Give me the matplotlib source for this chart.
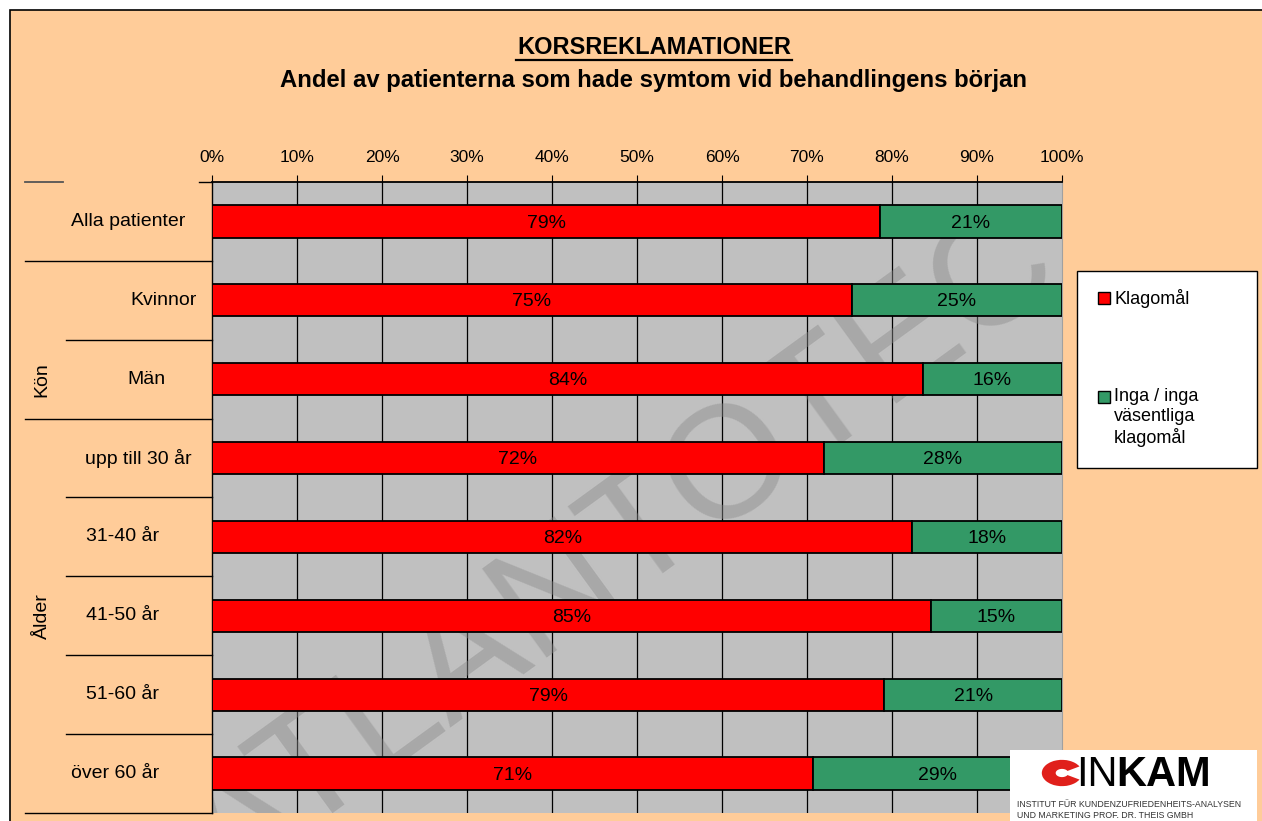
import matplotlib.pyplot as plt
from matplotlib.patches import Rectangle, Wedge

plt.rcParams['font.family'] = ['Liberation Sans', 'DejaVu Sans']

# data
categories = ["Alla patienter", "Kvinnor", "Män", "upp till 30 år",
              "31-40 år", "41-50 år", "51-60 år", "över 60 år"]
klagomal = [78.6, 75.3, 83.6, 72.0, 82.4, 84.6, 79.1, 70.7]
inga = [21.4, 24.7, 16.4, 28.0, 17.6, 15.4, 20.9, 29.3]
klagomal_labels = ["79%", "75%", "84%", "72%", "82%", "85%", "79%", "71%"]
inga_labels = ["21%", "25%", "16%", "28%", "18%", "15%", "21%", "29%"]
groups = ["Kön", "Ålder"]

W, H = 1262, 821
def fx(x): return x / W
def fy(y): return 1 - y / H

fig = plt.figure(figsize=(12.62, 8.21), dpi=100, facecolor="white")
# orange frame
fig.patches.append(Rectangle((fx(10), -0.01), 1.0, fy(10) + 0.01,
                             transform=fig.transFigure, facecolor="#FFCC99",
                             edgecolor="black", linewidth=1.2, zorder=-1))

ax = fig.add_axes([fx(212), fy(813), fx(1062) - fx(212), fy(182) - fy(813)])
ax.set_zorder(1)
ax.set_facecolor("#C0C0C0")
ax.set_xlim(0, 100)
ax.set_ylim(len(categories), 0)

y = [i + 0.5 for i in range(len(categories))]
ax.barh(y, klagomal, height=0.41, color="#FF0000", edgecolor="black", linewidth=1.3, zorder=3)
ax.barh(y, inga, left=klagomal, height=0.41, color="#339966", edgecolor="black", linewidth=1.3, zorder=3)

for yi, k, i_, kl, il in zip(y, klagomal, inga, klagomal_labels, inga_labels):
    ax.text(k / 2, yi + 0.02, kl, ha="center", va="center", fontsize=14, zorder=4)
    ax.text(k + i_ / 2, yi + 0.02, il, ha="center", va="center", fontsize=14, zorder=4)

# vertical gridlines
for g in range(10, 100, 10):
    ax.axvline(g, color="black", linewidth=0.9, zorder=1)

# watermark
ax.text(48, 4.7, "ATLANTOTEC", rotation=36, fontsize=115, color="#8C8C8C", alpha=0.45,
        ha="center", va="center", zorder=2, clip_on=True)

ax.xaxis.tick_top()
ax.set_xticks(range(0, 101, 10))
ax.set_xticklabels([f"{t}%" for t in range(0, 101, 10)], fontsize=12.5)
ax.tick_params(axis="x", direction="out", length=5, pad=7, color="black")
ax.set_yticks([])
ax.spines["bottom"].set_visible(False)
ax.spines["top"].set_linewidth(1.3)
ax.spines["left"].set_linewidth(1.0)
ax.spines["right"].set_color("#A0A0A0")

# category labels and separators
tr = ax.get_yaxis_transform()
label_px = [128, 164, 146, 138, 123, 123, 123, 115]
for yi, lab, px in zip(y, categories, label_px):
    ax.text((px - 212) / 850, yi, lab, transform=tr, ha="center", va="center",
            fontsize=14, clip_on=False)
long_x = (25 - 212) / 850
short_x = (66 - 212) / 850
ax.plot([long_x, (63 - 212) / 850], [0, 0], transform=tr, color="#555555", lw=1.3, clip_on=False)
ax.plot([-0.015, 0], [0, 0], transform=tr, color="black", lw=1.0, clip_on=False)
for b in range(1, len(categories) + 1):
    x0 = long_x if b in (1, 3, 8) else short_x
    ax.plot([x0, 0], [b, b], transform=tr, color="black", lw=1.0, clip_on=False)

ax.text((42 - 212) / 850, 2.5, groups[0], transform=tr, rotation=90, ha="center",
        va="center", fontsize=14, clip_on=False)
ax.text((42 - 212) / 850, 5.5, groups[1], transform=tr, rotation=90, ha="center",
        va="center", fontsize=14, clip_on=False)

# titles
fig.text(fx(654), fy(48), "KORSREKLAMATIONER", ha="center", va="center",
         fontsize=17, fontweight="bold")
fig.lines.append(plt.Line2D([fx(516), fx(792)], [fy(60), fy(60)], transform=fig.transFigure,
                            color="black", lw=1.6))
fig.text(fx(654), fy(80), "Andel av patienterna som hade symtom vid behandlingens början",
         ha="center", va="center", fontsize=17.2, fontweight="bold")

# legend
fig.patches.append(Rectangle((fx(1077), fy(468)), fx(1257) - fx(1077), fy(271) - fy(468),
                             transform=fig.transFigure, facecolor="white",
                             edgecolor="black", linewidth=1.0, zorder=5))
fig.patches.append(Rectangle((fx(1098), fy(304)), fx(12), fy(292) - fy(304),
                             transform=fig.transFigure, facecolor="#FF0000",
                             edgecolor="black", linewidth=1.0, zorder=6))
fig.patches.append(Rectangle((fx(1098), fy(403)), fx(12), fy(391) - fy(403),
                             transform=fig.transFigure, facecolor="#339966",
                             edgecolor="black", linewidth=1.0, zorder=6))
fig.text(fx(1114), fy(298), "Klagomål", ha="left", va="center", fontsize=13, zorder=7)
fig.text(fx(1114), fy(388), "Inga / inga\nväsentliga\nklagomål", ha="left", va="top",
         fontsize=13, linespacing=1.2, zorder=7)

# logo
fig.patches.append(Rectangle((fx(1010), 0), fx(1257) - fx(1010), fy(750),
                             transform=fig.transFigure, facecolor="white",
                             edgecolor="none", zorder=8))
fig.patches.append(Wedge((fx(1062), fy(773)), 0.016, 30, 330, width=0.011,
                         transform=fig.transFigure, facecolor="#E0201B", zorder=9))
fig.text(fx(1076), fy(775), "IN", ha="left", va="center", fontsize=30,
         color="black", zorder=9)
fig.text(fx(1116), fy(775), "KAM", ha="left", va="center", fontsize=30,
         fontweight="bold", color="black", zorder=9)
fig.text(fx(1017), fy(804), "INSTITUT FÜR KUNDENZUFRIEDENHEITS-ANALYSEN", ha="left",
         va="center", fontsize=6.3, color="#333333", zorder=9)
fig.text(fx(1017), fy(815), "UND MARKETING PROF. DR. THEIS GMBH", ha="left",
         va="center", fontsize=6.3, color="#333333", zorder=9)

fig.savefig("out.png", dpi=100, facecolor="white")
